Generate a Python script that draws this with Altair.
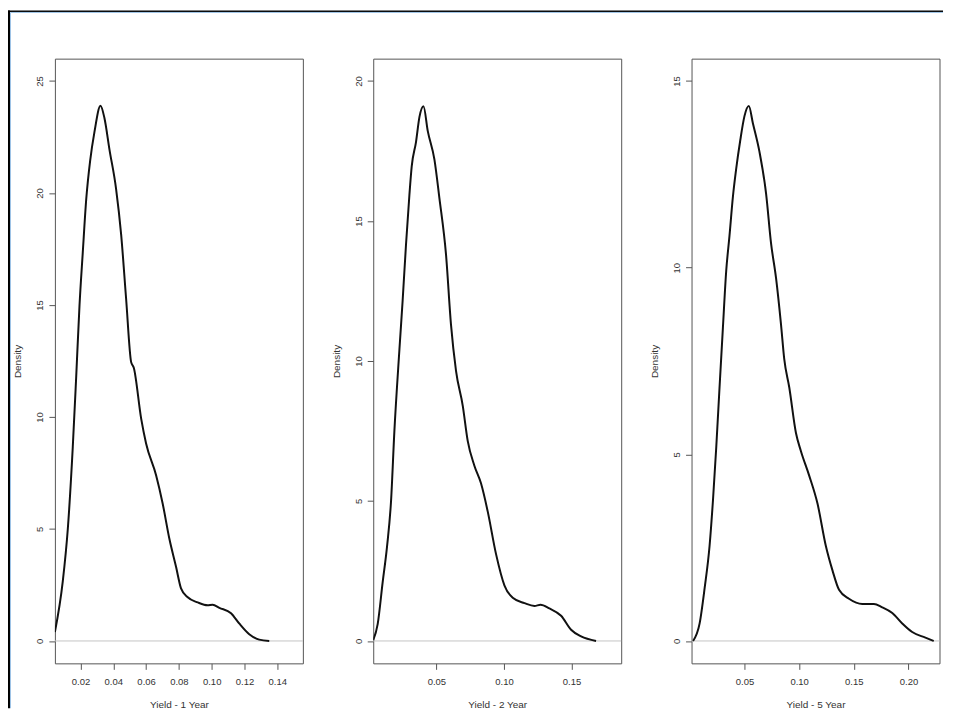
import altair as alt
import pandas as pd

# ---- data (density estimates) ----
x1 = [0.0044, 0.0092, 0.0123, 0.0153, 0.0174, 0.0194, 0.0214, 0.0235, 0.0259, 0.0285, 0.0322,
      0.0346, 0.0377, 0.0417, 0.0448, 0.0478, 0.0509, 0.0525, 0.0570, 0.0600, 0.0661, 0.0701,
      0.0742, 0.0783, 0.0813, 0.0854, 0.0915, 0.0975, 0.1006, 0.1047, 0.1118, 0.1169, 0.1229,
      0.1290, 0.1351]
y1 = [0.4, 2.66, 5.03, 8.66, 11.82, 14.98, 17.35, 19.72, 21.45, 22.72, 23.9,
      23.35, 21.93, 20.19, 18.14, 15.3, 12.45, 12.2, 9.93, 8.82, 7.4, 6.14,
      4.56, 3.3, 2.35, 1.95, 1.72, 1.59, 1.62, 1.48, 1.24, 0.77, 0.3,
      0.06, 0.0]

x2 = [0.0032, 0.0065, 0.0102, 0.0134, 0.0164, 0.0189, 0.0226, 0.0250, 0.0275, 0.0300, 0.0317,
      0.0349, 0.0374, 0.0404, 0.0436, 0.0485, 0.0522, 0.0571, 0.0608, 0.0645, 0.0695, 0.0732,
      0.0781, 0.0830, 0.0880, 0.0941, 0.1004, 0.1065, 0.1152, 0.1226, 0.1270, 0.1337, 0.1423,
      0.1497, 0.1571, 0.1682]
y2 = [0.03, 0.6, 2.1, 3.36, 5.0, 7.52, 10.41, 12.17, 14.18, 15.94, 16.95,
      17.83, 18.71, 19.1, 18.21, 17.2, 15.82, 13.8, 11.29, 9.65, 8.4, 7.14,
      6.26, 5.63, 4.62, 3.11, 1.98, 1.54, 1.35, 1.25, 1.29, 1.16, 0.9,
      0.4, 0.16, 0.0]

x3 = [0.0030, 0.0090, 0.0136, 0.0181, 0.0212, 0.0242, 0.0272, 0.0303, 0.0333, 0.0363, 0.0394,
      0.0424, 0.0461, 0.0500, 0.0540, 0.0577, 0.0637, 0.0698, 0.0743, 0.0789, 0.0834, 0.0864,
      0.0910, 0.0971, 0.1016, 0.1092, 0.1168, 0.1244, 0.1305, 0.1365, 0.1456, 0.1578, 0.1684,
      0.1760, 0.1852, 0.1943, 0.2034, 0.2155, 0.2231]
y3 = [0.0, 0.47, 1.42, 2.55, 3.77, 5.19, 6.79, 8.4, 9.91, 10.85, 11.89,
      12.64, 13.4, 14.06, 14.33, 13.87, 13.11, 11.98, 10.66, 9.72, 8.49, 7.55,
      6.79, 5.57, 5.09, 4.43, 3.68, 2.55, 1.89, 1.37, 1.13, 0.99, 0.99,
      0.9, 0.75, 0.47, 0.24, 0.09, 0.0]

titles = ["Yield - 1 Year", "Yield - 2 Year", "Yield - 5 Year"]
x_domains = [[0.0044, 0.1556], [0.0032, 0.1868], [0.0016, 0.2284]]
y_domains = [[-1.0, 26.0], [-0.8, 20.8], [-0.6, 15.6]]
x_ticks = [[0.02, 0.04, 0.06, 0.08, 0.10, 0.12, 0.14], [0.05, 0.10, 0.15], [0.05, 0.10, 0.15, 0.20]]
y_ticks = [[0, 5, 10, 15, 20, 25], [0, 5, 10, 15, 20], [0, 5, 10, 15]]

FONT = "Liberation Sans"
W, H = 248.5, 606
TXT = "#333333"


def panel(xs, ys, title, xd, yd, xt, yt, border=False):
    df = pd.DataFrame({"x": xs, "y": ys})
    xsc = alt.Scale(domain=xd, nice=False, zero=False)
    ysc = alt.Scale(domain=yd, nice=False, zero=False)
    common = dict(grid=False, domain=False, tickSize=6, tickColor="#555555", tickWidth=1,
                  labelFont=FONT, labelFontSize=9.5, labelColor=TXT,
                  titleFont=FONT, titleFontSize=10, titleFontWeight="normal", titleColor=TXT)
    xax = alt.Axis(values=xt, format=".2f", title=title, labelFlush=False, labelOverlap=False,
                   labelPadding=7, titlePadding=14, **common)
    yax = alt.Axis(values=yt, format="d", title="Density", labelAngle=270, labelAlign="center",
                   labelBaseline="bottom", labelPadding=4, titlePadding=12, **common)
    zero = alt.Chart(pd.DataFrame({"z": [0]})).mark_rule(color="#c4c4c4", strokeWidth=1).encode(
        y=alt.Y("z:Q", scale=ysc, axis=yax)
    )
    line = alt.Chart(df).mark_line(color="#111111", strokeWidth=2, interpolate="monotone", clip=True).encode(
        x=alt.X("x:Q", scale=xsc, axis=xax),
        y=alt.Y("y:Q", scale=ysc, axis=yax),
    )
    layers = [zero, line]
    if border:
        one = pd.DataFrame({"a": [0]})
        layers += [
            alt.Chart(one).mark_rule(color="#000000", strokeWidth=1.5, clip=False).encode(
                x=alt.value(-47), x2=alt.value(890), y=alt.value(-47.5)),
            alt.Chart(one).mark_rule(color="#000000", strokeWidth=2, clip=False).encode(
                x=alt.value(-46), y=alt.value(-48.25), y2=alt.value(651)),
            alt.Chart(one).mark_rule(color="#9dc3e6", strokeWidth=1, clip=False).encode(
                x=alt.value(-44.5), x2=alt.value(890), y=alt.value(-46.3)),
            alt.Chart(one).mark_rule(color="#9dc3e6", strokeWidth=1, clip=False).encode(
                x=alt.value(-44.5), y=alt.value(-46.3), y2=alt.value(651)),
        ]
    return alt.layer(*layers).properties(width=W, height=H)


p1 = panel(x1, y1, titles[0], x_domains[0], y_domains[0], x_ticks[0], y_ticks[0], border=True)
p2 = panel(x2, y2, titles[1], x_domains[1], y_domains[1], x_ticks[1], y_ticks[1])
p3 = panel(x3, y3, titles[2], x_domains[2], y_domains[2], x_ticks[2], y_ticks[2])

chart = alt.hconcat(p1, p2, p3, spacing=70, bounds="flush").properties(
    padding={"left": -2, "top": 0, "right": 0, "bottom": 0},
    background="white",
).resolve_scale(x="independent", y="independent").configure_view(
    stroke="#555555", strokeWidth=1
).configure_axis(
    grid=False, domain=False, tickSize=6, tickColor="#555555",
    labelFont=FONT, labelFontSize=9.5, labelColor=TXT,
    titleFont=FONT, titleFontSize=10, titleFontWeight="normal", titleColor=TXT,
)

chart.save("out.html", embed_options={"renderer": "svg", "actions": False})
